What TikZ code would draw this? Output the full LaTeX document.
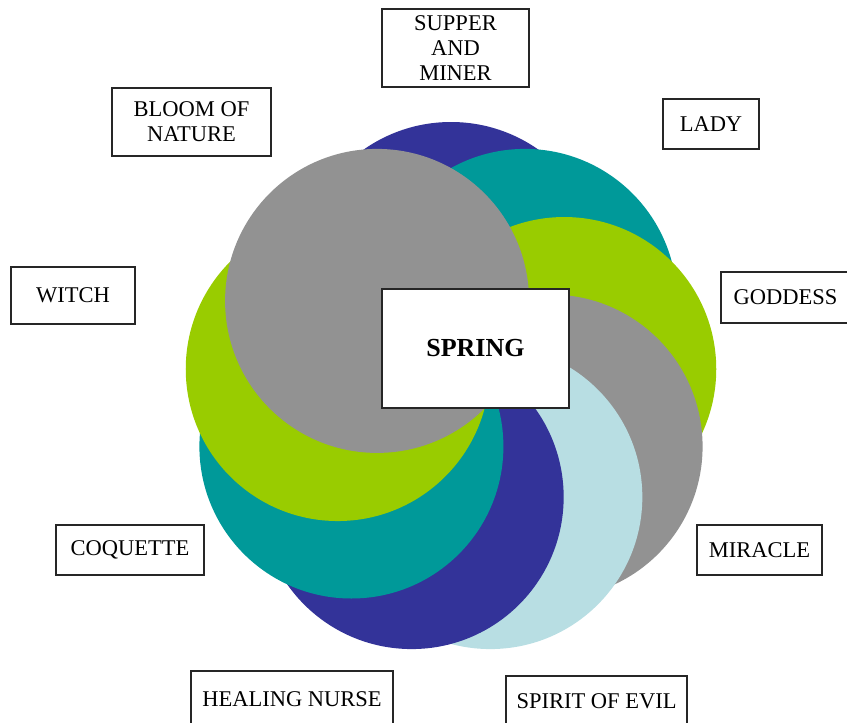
\documentclass[tikz,border=0pt]{standalone}
\usepackage{fontspec}
\setmainfont{Liberation Serif}
\usepackage{tikz}
\usetikzlibrary{positioning}

\definecolor{petalblue}{HTML}{333399}
\definecolor{petalteal}{HTML}{009999}
\definecolor{petallime}{HTML}{99CC00}
\definecolor{petalgray}{HTML}{929292}
\definecolor{petalice}{HTML}{B8DEE3}

\begin{document}
\begin{tikzpicture}[
    x=0.5pt, y=-0.5pt,
    labelbox/.style={rectangle, draw=black!85, line width=0.8pt, fill=white,
        inner sep=0pt, align=center, font=\fontsize{11.25}{12.5}\selectfont},
    hubbox/.style={labelbox, font=\fontsize{13}{15}\selectfont\bfseries}
]
\useasboundingbox (0,0) rectangle (847,723);
\coordinate (hub) at (451,389);
% petals, bottom one first
\foreach \ang/\col in {-90/petalblue, -50/petalteal, -10/petallime, 30/petalgray,
    70/petalice, 110/petalblue, 150/petalteal, 190/petallime, 230/petalgray}
    \fill[\col, shift={(hub)}] (\ang:115) circle[radius=152];

\node[hubbox, minimum width=93.5pt, minimum height=59.5pt] (spring) at (475.5,348.5) {SPRING};
\node[labelbox, minimum width=73.5pt, minimum height=39pt] (supper) at (455.5,48) {SUPPER\\AND\\MINER};
\node[labelbox, minimum width=79.5pt, minimum height=34pt] (bloom) at (191.5,122) {BLOOM OF\\NATURE};
\node[labelbox, minimum width=48pt, minimum height=25pt] (lady) at (711,124) {LADY};
\node[labelbox, minimum width=62pt, minimum height=28.5pt] (witch) at (73,295.5) {WITCH};
\node[labelbox, minimum width=64.5pt, minimum height=25.5pt] (goddess) at (785.5,297.5) {GODDESS};
\node[labelbox, minimum width=74pt, minimum height=25pt] (coquette) at (130,550) {COQUETTE};
\node[labelbox, minimum width=62.5pt, minimum height=25pt] (miracle) at (759.5,550) {MIRACLE};
\node[labelbox, minimum width=101pt, minimum height=28pt] (healing) at (292,699) {HEALING NURSE};
\node[labelbox, minimum width=90.5pt, minimum height=25pt] (spirit) at (596.5,701) {SPIRIT OF EVIL};
\end{tikzpicture}
\end{document}
